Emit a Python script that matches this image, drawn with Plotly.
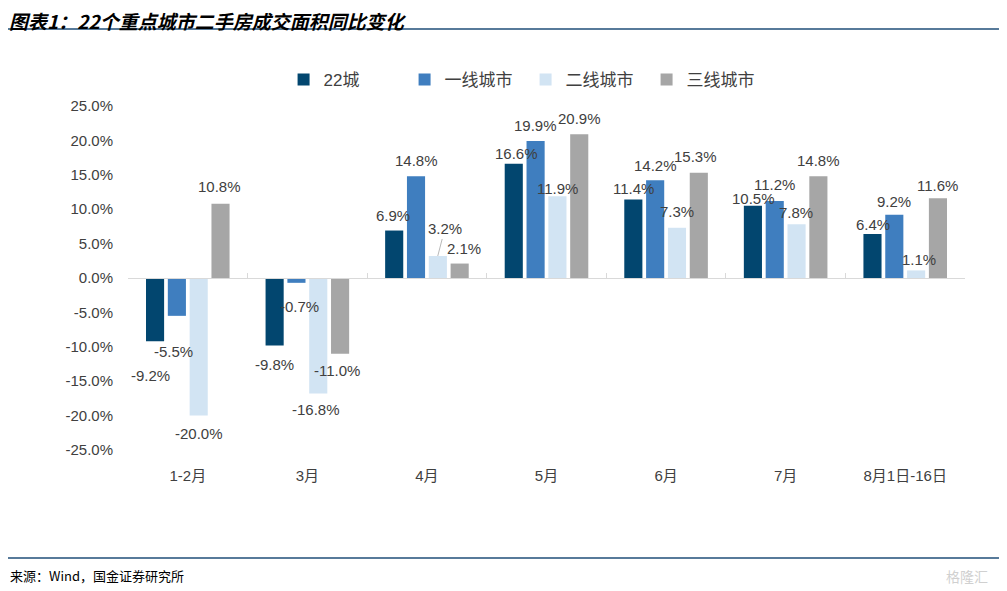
import plotly.graph_objects as go

categories = ["1-2月", "3月", "4月", "5月", "6月", "7月", "8月1日-16日"]
series_names = ["22城", "一线城市", "二线城市", "三线城市"]
v_22 = [-9.2, -9.8, 6.9, 16.6, 11.4, 10.5, 6.4]
v_t1 = [-5.5, -0.7, 14.8, 19.9, 14.2, 11.2, 9.2]
v_t2 = [-20.0, -16.8, 3.2, 11.9, 7.3, 7.8, 1.1]
v_t3 = [10.8, -11.0, 2.1, 20.9, 15.3, 14.8, 11.6]
y_tickvals = [25, 20, 15, 10, 5, 0, -5, -10, -15, -20, -25]
y_ticktext = ["25.0%", "20.0%", "15.0%", "10.0%", "5.0%", "0.0%",
              "-5.0%", "-10.0%", "-15.0%", "-20.0%", "-25.0%"]

series_values = [v_22, v_t1, v_t2, v_t3]
colors = ["#02466f", "#3f7ebf", "#d2e4f3", "#a6a6a6"]

# label offsets in pixels (style only): per series, per category
label_dx = [
    [-5, 0, -1, 3, 0, 0, 0],
    [-3, 3, 0, 0, 0, 0, 0],
    [0, -2, 5, 0, 0, 0, 3],
    [-1, -3, 5, 0, -3, 0, 0],
]
label_dy = [
    [-34, -19, 15, 10, 11, 7, 9],
    [-36, -24, 16, 16, 15, 16, 13],
    [-18, -16, 27, 8, 16, 12, 11],
    [17, -17, 15, 16, 16, 16, 13],
]

FONT = "Liberation Sans, Arial, Noto Sans CJK SC, sans-serif"
TXT = "#404040"

fig = go.Figure()
for name, vals, c in zip(series_names, series_values, colors):
    fig.add_trace(go.Bar(x=categories, y=vals, name=name, marker_color=c,
                         marker_line_width=0))

slot = 21.7
annotations = []
for i, vals in enumerate(series_values):
    for j, v in enumerate(vals):
        base_shift = (i - 1.5) * slot
        txt = f"{v:.1f}%"
        if i == 2 and j == 2:
            annotations.append(dict(
                x=categories[j], y=v, xref="x", yref="y", xshift=base_shift,
                text=txt, showarrow=True, arrowhead=0, arrowwidth=0.8,
                arrowcolor="#a6a6a6", ax=label_dx[i][j] + 2, ay=-label_dy[i][j],
                standoff=0, font=dict(family=FONT, size=15, color=TXT)))
        else:
            annotations.append(dict(
                x=categories[j], y=v, xref="x", yref="y",
                xshift=base_shift + label_dx[i][j], yshift=label_dy[i][j],
                text=txt, showarrow=False, yanchor="middle",
                font=dict(family=FONT, size=15, color=TXT)))

annotations.append(dict(
    xref="paper", yref="paper", x=-0.1434, y=1.2471, xanchor="left", yanchor="middle",
    borderpad=0,
    text="<b><i>图表1：22个重点城市二手房成交面积同比变化</i></b>", showarrow=False,
    font=dict(family="Noto Sans CJK SC, Liberation Sans, sans-serif", size=19, color="#000000")))
annotations.append(dict(
    xref="paper", yref="paper", x=-0.1434, y=-0.366, xanchor="left", yanchor="middle",
    text="来源：Wind，国金证券研究所", showarrow=False,
    font=dict(family="Noto Sans CJK SC, sans-serif", size=13, color="#000000")))
annotations.append(dict(
    xref="paper", yref="paper", x=1.03, y=-0.366, xanchor="right", yanchor="middle",
    text="格隆汇", showarrow=False,
    font=dict(family="Noto Sans CJK SC, sans-serif", size=14, color="#d0d0d0")))

fig.update_layout(
    width=991, height=580,
    margin=dict(l=120, r=34, t=98, b=138),
    paper_bgcolor="white", plot_bgcolor="white",
    barmode="group", bargap=0.27, bargroupgap=0.17,
    font=dict(family=FONT, size=15, color=TXT),
    legend=dict(orientation="h", x=0.475, xanchor="center", y=1.076, yanchor="middle",
                font=dict(family=FONT, size=17, color=TXT), bgcolor="rgba(0,0,0,0)",
                entrywidth=76, entrywidthmode="pixels", itemclick=False),
    annotations=annotations,
    shapes=[
        dict(type="line", xref="paper", yref="paper", x0=-0.1434, x1=1.0406, y0=1.2238, y1=1.2238,
             line=dict(color="#1f4e79", width=1.5)),
        dict(type="line", xref="paper", yref="paper", x0=-0.1434, x1=1.0406, y0=-0.314, y1=-0.314,
             line=dict(color="#1f4e79", width=1.5)),
    ],
    showlegend=True,
)
fig.update_xaxes(anchor="free", position=0.5, showline=True, linecolor="#d9d9d9", linewidth=1,
                 ticks="inside", tickson="boundaries", ticklen=5, tickcolor="#d9d9d9",
                 ticklabelstandoff=184, showgrid=False, zeroline=False,
                 tickfont=dict(family=FONT, size=15, color=TXT))
fig.update_yaxes(range=[-25, 25], tickvals=y_tickvals, ticktext=y_ticktext,
                 showgrid=False, zeroline=False, showline=False, ticks="",
                 ticklabelstandoff=14, tickfont=dict(family=FONT, size=15, color=TXT))

fig.write_html("out.html")
